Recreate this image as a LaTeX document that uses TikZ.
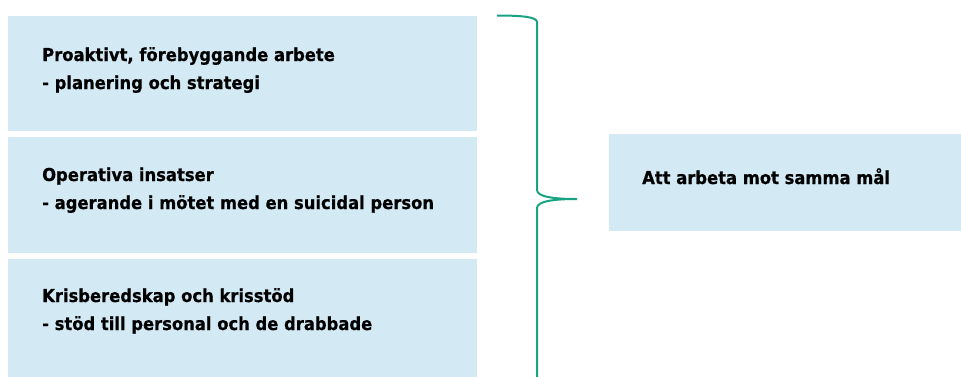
\documentclass[tikz,border=0pt]{standalone}
\usepackage{fontspec}
\newfontfamily\tfont[FakeStretch=0.92,FakeBold=0.6]{DejaVu Sans Bold}
\definecolor{boxfill}{HTML}{D3EAF5}
\definecolor{bracecol}{HTML}{18A383}
\begin{document}
\begin{tikzpicture}[x=1pt,y=-1pt,
  box/.style={fill=boxfill,draw=none,inner sep=0pt},
  txt/.style={anchor=base west,inner sep=0pt,font=\tfont\fontsize{17.8}{28}\selectfont,text=black},
  brace/.style={draw=bracecol,line width=2pt}]
\useasboundingbox (0,0) rectangle (961,376);
\begin{scope}
\clip (0,0) rectangle (961,376);
\node[box,minimum width=469pt,minimum height=115pt] (b1) at (242.5,73.5) {};
\node[box,minimum width=469pt,minimum height=116pt] (b2) at (242.5,195) {};
\node[box,minimum width=469pt,minimum height=131pt] (b3) at (242.5,324.5) {};
\node[box,minimum width=360pt,minimum height=97pt] (r) at (789,182.5) {};
\node[txt] (t1a) at (42,61) {Proaktivt, förebyggande arbete};
\node[txt] (t1b) at (42,89) {- planering och strategi};
\node[txt] (t2a) at (42,181) {Operativa insatser};
\node[txt] (t2b) at (42,209) {- agerande i mötet med en suicidal person};
\node[txt] (t3a) at (42,302) {Krisberedskap och krisstöd};
\node[txt] (t3b) at (42,330) {- stöd till personal och de drabbade};
\node[txt] (tr) at (642,184) {Att arbeta mot samma mål};
\coordinate (btop) at (497,15.5);
\coordinate (btip) at (577,199);
\coordinate (bbot) at (537,380);
\draw[brace] (btop) .. controls (522,15.5) and (537,17) .. (537,22)
  -- (537,190) .. controls (537,197) and (555,199) .. (btip)
  .. controls (555,199) and (537,201) .. (537,208) -- (bbot);
\end{scope}
\end{tikzpicture}
\end{document}
